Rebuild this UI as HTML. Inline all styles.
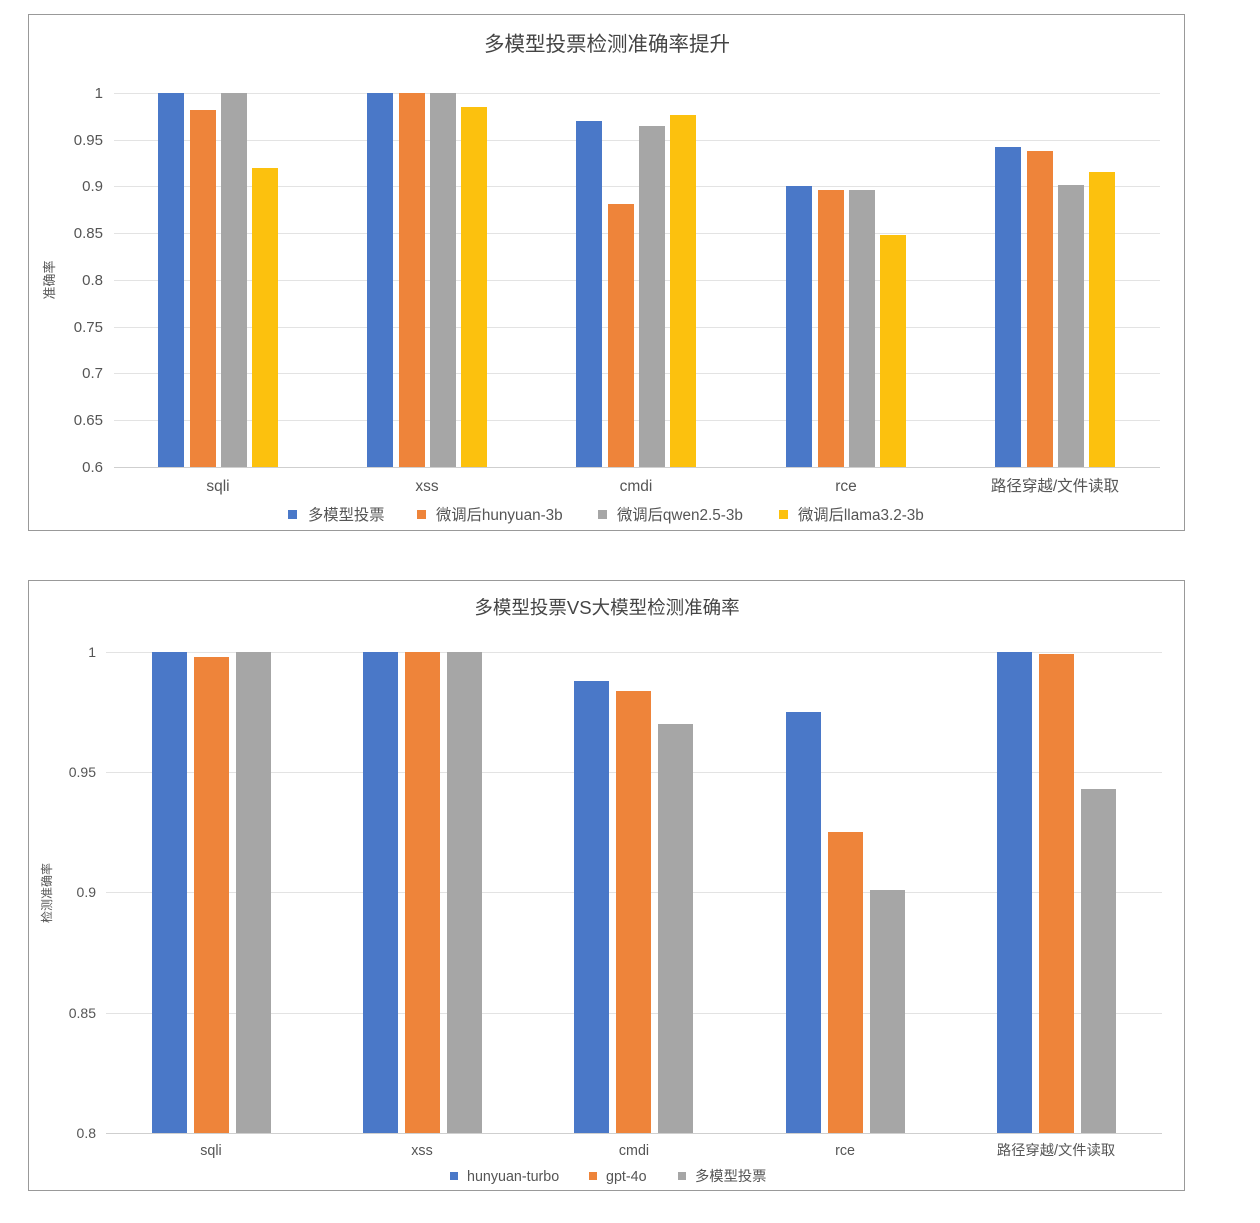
<!DOCTYPE html>
<html><head><meta charset="utf-8"><style>
body{margin:0;background:#fff;}
text{font-family:"Liberation Sans","Noto Sans CJK SC",sans-serif;fill:#555;}
</style></head><body>
<svg width="1260" height="1218" xmlns="http://www.w3.org/2000/svg">
<rect x="28.5" y="14.5" width="1156" height="516" fill="#fff" stroke="#999" stroke-width="1"/>
<text x="607" y="51" font-size="20.5" text-anchor="middle" style="fill:#444">多模型投票检测准确率提升</text>
<g stroke="#e3e3e3" stroke-width="1">
<line x1="114" x2="1160" y1="93.5" y2="93.5"/><line x1="114" x2="1160" y1="140.5" y2="140.5"/><line x1="114" x2="1160" y1="186.5" y2="186.5"/><line x1="114" x2="1160" y1="233.5" y2="233.5"/><line x1="114" x2="1160" y1="280.5" y2="280.5"/><line x1="114" x2="1160" y1="327.5" y2="327.5"/><line x1="114" x2="1160" y1="373.5" y2="373.5"/><line x1="114" x2="1160" y1="420.5" y2="420.5"/>
</g>
<line x1="114" x2="1160" y1="467.5" y2="467.5" stroke="#cfcfcf"/>
<g font-size="15" text-anchor="end">
<text x="103" y="98">1</text><text x="103" y="145">0.95</text><text x="103" y="191">0.9</text><text x="103" y="238">0.85</text><text x="103" y="285">0.8</text><text x="103" y="332">0.75</text><text x="103" y="378">0.7</text><text x="103" y="425">0.65</text><text x="103" y="472">0.6</text>
</g>
<text transform="translate(54,280) rotate(-90)" font-size="13" text-anchor="middle">准确率</text>
<g>
<rect x="158" y="93" width="26" height="374" fill="#4a78c8"/><rect x="190" y="110" width="26" height="357" fill="#ee843a"/><rect x="221" y="93" width="26" height="374" fill="#a6a6a6"/><rect x="252" y="168" width="26" height="299" fill="#fcc10e"/>
<rect x="367" y="93" width="26" height="374" fill="#4a78c8"/><rect x="399" y="93" width="26" height="374" fill="#ee843a"/><rect x="430" y="93" width="26" height="374" fill="#a6a6a6"/><rect x="461" y="107" width="26" height="360" fill="#fcc10e"/>
<rect x="576" y="121" width="26" height="346" fill="#4a78c8"/><rect x="608" y="204" width="26" height="263" fill="#ee843a"/><rect x="639" y="126" width="26" height="341" fill="#a6a6a6"/><rect x="670" y="115" width="26" height="352" fill="#fcc10e"/>
<rect x="786" y="186" width="26" height="281" fill="#4a78c8"/><rect x="818" y="190" width="26" height="277" fill="#ee843a"/><rect x="849" y="190" width="26" height="277" fill="#a6a6a6"/><rect x="880" y="235" width="26" height="232" fill="#fcc10e"/>
<rect x="995" y="147" width="26" height="320" fill="#4a78c8"/><rect x="1027" y="151" width="26" height="316" fill="#ee843a"/><rect x="1058" y="185" width="26" height="282" fill="#a6a6a6"/><rect x="1089" y="172" width="26" height="295" fill="#fcc10e"/>
</g>
<g font-size="15.5" text-anchor="middle">
<text x="218" y="491">sqli</text><text x="427" y="491">xss</text><text x="636" y="491">cmdi</text><text x="846" y="491">rce</text><text x="1055" y="491">路径穿越/文件读取</text>
</g>
<g font-size="15.3">
<rect x="288" y="510" width="9" height="9" fill="#4a78c8"/><text x="308" y="520">多模型投票</text>
<rect x="417" y="510" width="9" height="9" fill="#ee843a"/><text x="436" y="520">微调后hunyuan-3b</text>
<rect x="598" y="510" width="9" height="9" fill="#a6a6a6"/><text x="617" y="520">微调后qwen2.5-3b</text>
<rect x="779" y="510" width="9" height="9" fill="#fcc10e"/><text x="798" y="520">微调后llama3.2-3b</text>
</g>

<rect x="28.5" y="580.5" width="1156" height="610" fill="#fff" stroke="#999" stroke-width="1"/>
<text x="607" y="614" font-size="18.5" text-anchor="middle" style="fill:#444">多模型投票VS大模型检测准确率</text>
<g stroke="#e3e3e3" stroke-width="1">
<line x1="106" x2="1162" y1="652.5" y2="652.5"/><line x1="106" x2="1162" y1="772.5" y2="772.5"/><line x1="106" x2="1162" y1="892.5" y2="892.5"/><line x1="106" x2="1162" y1="1013.5" y2="1013.5"/>
</g>
<line x1="106" x2="1162" y1="1133.5" y2="1133.5" stroke="#cfcfcf"/>
<g font-size="14" text-anchor="end">
<text x="96" y="657">1</text><text x="96" y="777">0.95</text><text x="96" y="897">0.9</text><text x="96" y="1018">0.85</text><text x="96" y="1138">0.8</text>
</g>
<text transform="translate(51,893) rotate(-90)" font-size="12" text-anchor="middle">检测准确率</text>
<g>
<rect x="152" y="652" width="35" height="481" fill="#4a78c8"/><rect x="194" y="657" width="35" height="476" fill="#ee843a"/><rect x="236" y="652" width="35" height="481" fill="#a6a6a6"/>
<rect x="363" y="652" width="35" height="481" fill="#4a78c8"/><rect x="405" y="652" width="35" height="481" fill="#ee843a"/><rect x="447" y="652" width="35" height="481" fill="#a6a6a6"/>
<rect x="574" y="681" width="35" height="452" fill="#4a78c8"/><rect x="616" y="691" width="35" height="442" fill="#ee843a"/><rect x="658" y="724" width="35" height="409" fill="#a6a6a6"/>
<rect x="786" y="712" width="35" height="421" fill="#4a78c8"/><rect x="828" y="832" width="35" height="301" fill="#ee843a"/><rect x="870" y="890" width="35" height="243" fill="#a6a6a6"/>
<rect x="997" y="652" width="35" height="481" fill="#4a78c8"/><rect x="1039" y="654" width="35" height="479" fill="#ee843a"/><rect x="1081" y="789" width="35" height="344" fill="#a6a6a6"/>
</g>
<g font-size="14.3" text-anchor="middle">
<text x="211" y="1155">sqli</text><text x="422" y="1155">xss</text><text x="634" y="1155">cmdi</text><text x="845" y="1155">rce</text><text x="1056" y="1155">路径穿越/文件读取</text>
</g>
<g font-size="14.3">
<rect x="450" y="1172" width="8" height="8" fill="#4a78c8"/><text x="467" y="1181">hunyuan-turbo</text>
<rect x="589" y="1172" width="8" height="8" fill="#ee843a"/><text x="606" y="1181">gpt-4o</text>
<rect x="678" y="1172" width="8" height="8" fill="#a6a6a6"/><text x="695" y="1181">多模型投票</text>
</g>
</svg>
</body></html>
